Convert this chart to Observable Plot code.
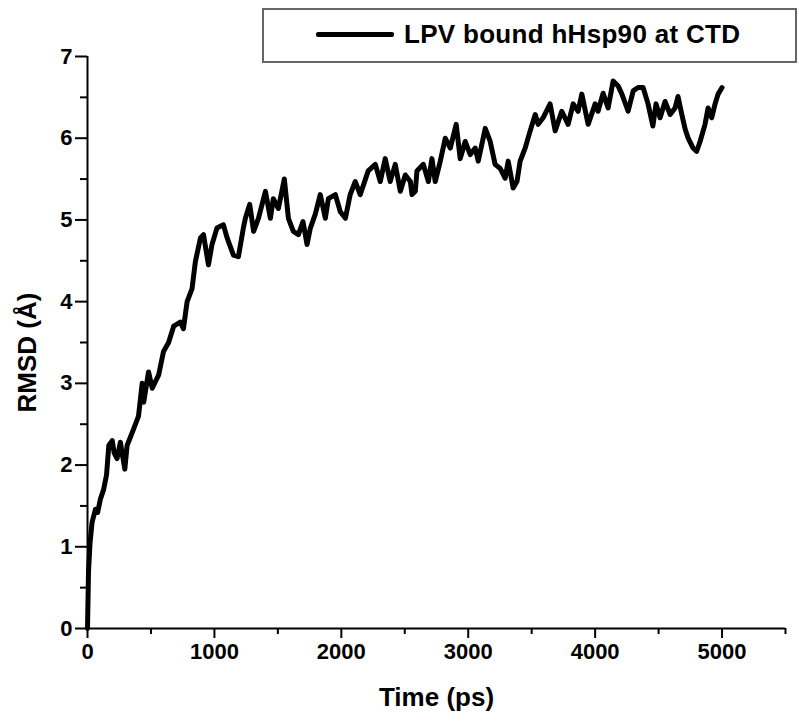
<!DOCTYPE html>
<html>
<head>
<meta charset="utf-8">
<script src="https://cdn.jsdelivr.net/npm/d3@7"></script>
<script src="https://cdn.jsdelivr.net/npm/@observablehq/plot@0.6"></script>
<style>
  html, body { margin: 0; padding: 0; background: #fff; }
  #wrap { position: relative; width: 799px; height: 723px; font-family: "Liberation Sans", Arial, sans-serif; }
  #legend { position: absolute; left: 262px; top: 8px; width: 531px; height: 51px; border: 2px solid #666; background: #fff; box-sizing: content-box; }
  #legend .sample { position: absolute; left: 52px; top: 22px; width: 78px; height: 5px; background: #000; border-radius: 2px; }
  #legend .txt { position: absolute; left: 140px; top: 9px; font-weight: bold; font-size: 26px; line-height: 30px; letter-spacing: 0.3px; color: #000; white-space: nowrap; }
</style>
</head>
<body>
<div id="wrap">
  <div id="chart"></div>
  <div id="legend"><div class="sample"></div><div class="txt" id="legendText"></div></div>
</div>
<script>
const seriesName = "LPV bound hHsp90 at CTD";
const xLabel = "Time (ps)";
const yLabel = "RMSD (Å)";
const xMajorTicks = [0, 1000, 2000, 3000, 4000, 5000];
const xMinorTicks = [500, 1500, 2500, 3500, 4500, 5500];
const yMajorTicks = [0, 1, 2, 3, 4, 5, 6, 7];
const yMinorTicks = [0.5, 1.5, 2.5, 3.5, 4.5, 5.5, 6.5];

const times = [0, 8, 20, 36, 63, 80, 101, 127, 150, 168, 195, 210, 233, 259, 294, 312, 363, 402, 431, 443,
  481, 510, 560, 599, 639, 679, 732, 756, 785, 824, 850, 890, 914, 953, 981, 1020, 1071, 1100, 1150, 1189,
  1228, 1244, 1268, 1278, 1309, 1347, 1402, 1441, 1464, 1504, 1551, 1583, 1622, 1662, 1698, 1730, 1756, 1795, 1834, 1874,
  1898, 1953, 1992, 2032, 2070, 2110, 2149, 2212, 2268, 2307, 2346, 2385, 2425, 2465, 2504, 2544, 2557, 2583, 2596, 2646,
  2686, 2714, 2740, 2780, 2819, 2859, 2905, 2937, 2976, 3016, 3055, 3079, 3134, 3173, 3212, 3252, 3291, 3315, 3354, 3384,
  3409, 3449, 3488, 3528, 3551, 3590, 3645, 3685, 3737, 3787, 3827, 3866, 3895, 3934, 3945, 4000, 4023, 4063, 4102, 4142,
  4181, 4211, 4260, 4300, 4338, 4378, 4417, 4455, 4480, 4512, 4551, 4591, 4630, 4653, 4683, 4708, 4733, 4772, 4800, 4827,
  4866, 4890, 4919, 4945, 4969, 5000];
const rmsd = [0.0, 0.7, 1.05, 1.3, 1.46, 1.42, 1.58, 1.7, 1.88, 2.24, 2.3, 2.15, 2.08, 2.28, 1.95, 2.24, 2.44, 2.6, 3.0, 2.77,
  3.14, 2.94, 3.1, 3.39, 3.5, 3.7, 3.75, 3.67, 4.0, 4.16, 4.49, 4.78, 4.82, 4.45, 4.7, 4.9, 4.94, 4.78, 4.57, 4.55,
  4.9, 5.02, 5.14, 5.19, 4.86, 5.02, 5.35, 5.02, 5.26, 5.14, 5.5, 5.02, 4.86, 4.82, 4.98, 4.7, 4.9, 5.07, 5.31, 5.02,
  5.26, 5.31, 5.1, 5.02, 5.31, 5.47, 5.31, 5.6, 5.68, 5.47, 5.75, 5.47, 5.68, 5.35, 5.55, 5.47, 5.31, 5.35, 5.6, 5.68,
  5.47, 5.75, 5.47, 5.72, 6.0, 5.88, 6.17, 5.75, 5.96, 5.8, 5.88, 5.72, 6.12, 5.96, 5.68, 5.63, 5.51, 5.72, 5.39, 5.47,
  5.72, 5.88, 6.09, 6.29, 6.17, 6.25, 6.42, 6.09, 6.33, 6.17, 6.42, 6.33, 6.54, 6.25, 6.17, 6.42, 6.33, 6.55, 6.37, 6.7,
  6.64, 6.54, 6.33, 6.58, 6.62, 6.62, 6.42, 6.15, 6.42, 6.25, 6.45, 6.29, 6.37, 6.51, 6.29, 6.12, 6.0, 5.88, 5.84, 5.96,
  6.17, 6.37, 6.25, 6.42, 6.54, 6.62];

const data = times.map((t, i) => ({t, v: rmsd[i]}));
document.getElementById("legendText").textContent = seriesName;

const font = {fontSize: 22, fontWeight: "bold"};
const chart = Plot.plot({
  width: 799,
  height: 723,
  marginLeft: 87,
  marginRight: 14,
  marginTop: 56,
  marginBottom: 95,
  style: {fontFamily: "'Liberation Sans', Arial, sans-serif", color: "#000", background: "#fff"},
  x: {domain: [0, 5500]},
  y: {domain: [0, 7]},
  marks: [
    Plot.axisX(xMinorTicks, {tickSize: 6, strokeWidth: 2, tickFormat: () => "", label: null}),
    Plot.axisX(xMajorTicks, {tickSize: 10, strokeWidth: 2, tickPadding: 5, tickFormat: d => String(d), label: null, ...font}),
    Plot.axisY(yMinorTicks, {tickSize: 7, strokeWidth: 2, tickFormat: () => "", label: null}),
    Plot.axisY(yMajorTicks, {tickSize: 12, strokeWidth: 2, tickPadding: 3, tickFormat: d => String(d), label: null, ...font}),
    Plot.ruleX([0], {stroke: "#000", strokeWidth: 2}),
    Plot.ruleY([0], {stroke: "#000", strokeWidth: 2}),
    Plot.line(data, {x: "t", y: "v", stroke: "#000", strokeWidth: 5, strokeLinejoin: "round", strokeLinecap: "round"}),
    Plot.text([xLabel], {frameAnchor: "bottom", dy: 77, text: d => d, fontSize: 26, fontWeight: "bold", fill: "#000"}),
    Plot.text([yLabel], {frameAnchor: "left", textAnchor: "middle", dx: -60, dy: 10, rotate: -90, text: d => d, fontSize: 26, fontWeight: "bold", fill: "#000"})
  ]
});
document.getElementById("chart").appendChild(chart);
</script>
</body>
</html>
